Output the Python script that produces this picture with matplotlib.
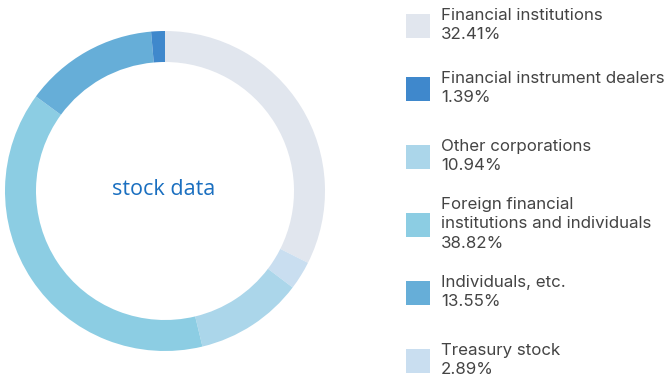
import matplotlib.pyplot as plt
from matplotlib.patches import Rectangle

labels = ['Financial institutions', 'Financial instrument dealers', 'Other corporations',
          'Foreign financial\ninstitutions and individuals', 'Individuals, etc.', 'Treasury stock']
shares = [32.41, 1.39, 10.94, 38.82, 13.55, 2.89]
colors = ['#e1e6ee', '#3f88cc', '#abd6ea', '#8ccde3', '#66aed8', '#c9def0']
# order of the slices clockwise from 12 o'clock
ring_order = [0, 5, 2, 3, 4, 1]

W, H = 672, 384
fig = plt.figure(figsize=(W / 100, H / 100), dpi=100)

# donut
cx, cy, r = 165, 191, 160
ax = fig.add_axes([(cx - r) / W, (H - cy - r) / H, 2 * r / W, 2 * r / H])
ax.pie([shares[i] for i in ring_order], colors=[colors[i] for i in ring_order],
       startangle=90, counterclock=False, radius=1,
       wedgeprops=dict(width=31 / 160, linewidth=0))
ax.set_xlim(-1, 1)
ax.set_ylim(-1, 1)
ax.axis('off')
ax.text(-0.01, 0.01, 'stock data', ha='center', va='center', fontsize=15.5,
        color='#1a6fc0', family='Open Sans')

# legend
row_y = [26, 89, 157, 225, 293, 361]
for i, (lab, val) in enumerate(zip(labels, shares)):
    y = row_y[i]
    fig.patches.append(Rectangle((406 / W, 1 - (y + 12) / H), 24 / W, 24 / H,
                                 transform=fig.transFigure, color=colors[i], lw=0))
    fig.text(441 / W, 1 - (y - 1) / H, lab + '\n' + f'{val:.2f}%', va='center', ha='left',
             fontsize=12.2, color='#444444', family='Inter', linespacing=1.38)

fig.savefig('out.png', dpi=100)
